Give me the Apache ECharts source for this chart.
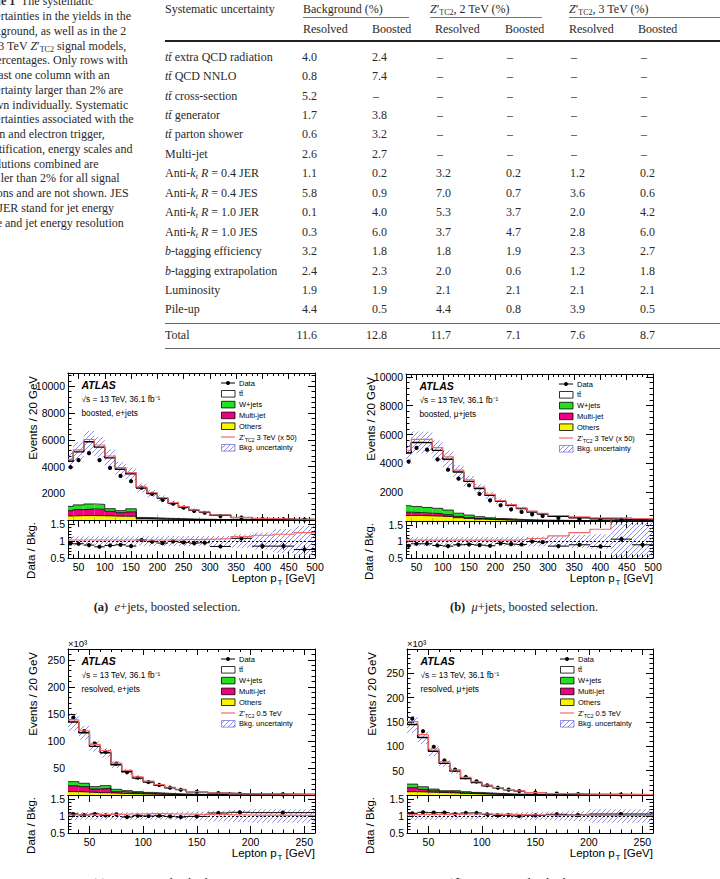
<!DOCTYPE html>
<html>
<head>
<meta charset="utf-8">
<script src="https://cdn.jsdelivr.net/npm/echarts@6/dist/echarts.min.js"></script>
<style>
  html, body { margin: 0; padding: 0; background: #fff; }
  body { width: 720px; height: 879px; overflow: hidden; position: relative;
         font-family: "Liberation Serif", "Times New Roman", serif; color: #2a2a2a; }
  #caption { position: absolute; left: -22px; top: -5.6px; font-size: 12px; line-height: 14.75px; white-space: nowrap; }
  #caption sub, .cell sub { font-size: 8px; vertical-align: -2px; line-height: 0; }
  .cell { position: absolute; font-size: 12px; line-height: 14px; white-space: nowrap; transform: translateY(-50%); }
  .num { text-align: right; }
  .rule { position: absolute; background: #333; }
  .fig { position: absolute; z-index: 5; font-size: 12.5px; white-space: nowrap; transform: translate(-50%, -50%); color: #222; }
  #plots { position: absolute; z-index: 1; left: 0; top: 360px; width: 720px; height: 519px; }
</style>
</head>
<body>
<div id="caption">
  <b>Table 1</b>&nbsp; The systematic<br>
  uncertainties in the yields in the<br>
  background, as well as in the 2<br>
  and 3 TeV <i>Z</i>′<sub>TC2</sub> signal models,<br>
  in percentages. Only rows with<br>
  at least one column with an<br>
  uncertainty larger than 2% are<br>
  shown individually. Systematic<br>
  uncertainties associated with the<br>
  muon and electron trigger,<br>
  identification, energy scales and<br>
  resolutions combined are<br>
  smaller than 2% for all signal<br>
  regions and are not shown. JES<br>
  and JER stand for jet energy<br>
  scale and jet energy resolution
</div>
<div id="table"></div>
<div id="plots"></div>
<div class="fig" style="left:167px; top:607px;"><b>(a)</b>&nbsp;&nbsp;<i>e</i>+jets, boosted selection.</div>
<div class="fig" style="left:524px; top:607px;"><b>(b)</b>&nbsp;&nbsp;<i>μ</i>+jets, boosted selection.</div>
<div class="fig" style="left:167px; top:883px;"><b>(c)</b>&nbsp;&nbsp;<i>e</i>+jets, resolved selection.</div>
<div class="fig" style="left:524px; top:883px;"><b>(d)</b>&nbsp;&nbsp;<i>μ</i>+jets, resolved selection.</div>

<script>
// ---- table data ----
const rowNames = [
  "<i>tt̄</i> extra QCD radiation", "<i>tt̄</i> QCD NNLO", "<i>tt̄</i> cross-section",
  "<i>tt̄</i> generator", "<i>tt̄</i> parton shower", "Multi-jet",
  "Anti-<i>k<sub>t</sub> R</i> = 0.4 JER", "Anti-<i>k<sub>t</sub> R</i> = 0.4 JES",
  "Anti-<i>k<sub>t</sub> R</i> = 1.0 JER", "Anti-<i>k<sub>t</sub> R</i> = 1.0 JES",
  "<i>b</i>-tagging efficiency", "<i>b</i>-tagging extrapolation", "Luminosity", "Pile-up"
];
const bkgResolved = [4.0, 0.8, 5.2, 1.7, 0.6, 2.6, 1.1, 5.8, 0.1, 0.3, 3.2, 2.4, 1.9, 4.4];
const bkgBoosted  = [2.4, 7.4, null, 3.8, 3.2, 2.7, 0.2, 0.9, 4.0, 6.0, 1.8, 2.3, 1.9, 0.5];
const z2Resolved  = [null, null, null, null, null, null, 3.2, 7.0, 5.3, 3.7, 1.8, 2.0, 2.1, 4.4];
const z2Boosted   = [null, null, null, null, null, null, 0.2, 0.7, 3.7, 4.7, 1.9, 0.6, 2.1, 0.8];
const z3Resolved  = [null, null, null, null, null, null, 1.2, 3.6, 2.0, 2.8, 2.3, 1.2, 2.1, 3.9];
const z3Boosted   = [null, null, null, null, null, null, 0.2, 0.6, 4.2, 6.0, 2.7, 1.8, 2.1, 0.5];
const totals      = [11.6, 12.8, 11.7, 7.1, 7.6, 8.7];

// ---- histogram data ----
const edgesBoosted  = [30, 40, 60, 80, 100, 120, 140, 160, 180, 200, 220, 240, 260, 280, 300, 340, 380, 420, 460, 500];
const edgesResolved = [30, 40, 50, 60, 70, 80, 90, 100, 110, 120, 130, 140, 160, 180, 200, 260];

// (a) boosted e+jets, events / 20 GeV
const bkgA      = [4400, 5100, 5850, 5450, 4650, 3800, 3450, 2400, 1980, 1620, 1270, 970, 730, 580, 350, 180, 100, 62, 40];
const dataA     = [3950, 4480, 5000, 4480, 3900, 3300, 2900, 2420, 1950, 1500, 1220, 930, 680, 540, 290, 190, 85, 52, 30];
const othersA   = [300, 330, 330, 320, 300, 280, 280, 90, 80, 60, 50, 40, 30, 25, 15, 10, 6, 4, 3];
const multijetA = [400, 450, 500, 480, 350, 270, 330, 20, 15, 10, 8, 6, 5, 4, 3, 2, 1, 1, 1];
const wjetsA    = [320, 350, 370, 370, 200, 150, 230, 80, 70, 60, 50, 40, 30, 25, 18, 10, 7, 5, 3];
const uncA      = [0.14, 0.14, 0.14, 0.14, 0.14, 0.14, 0.14, 0.14, 0.14, 0.14, 0.15, 0.15, 0.15, 0.15, 0.15, 0.2, 0.25, 0.35, 0.45];
const ratioA    = [0.93, 0.92, 0.88, 0.83, 0.87, 0.89, 0.85, 1.03, 0.98, 0.94, 0.99, 0.96, 0.94, 0.95, 0.84, 1.08, 0.85, 0.85, 0.75];
const ratioErrA = [0.015, 0.015, 0.015, 0.015, 0.015, 0.02, 0.02, 0.02, 0.025, 0.025, 0.03, 0.035, 0.035, 0.04, 0.045, 0.07, 0.08, 0.1, 0.12];
const sigRatioA = [1.03, 1.03, 1.03, 1.03, 1.03, 1.03, 1.03, 1.03, 1.03, 1.03, 1.03, 1.04, 1.04, 1.05, 1.07, 1.13, 1.17, 1.2, 1.25];

// (b) boosted mu+jets
const bkgB      = [4720, 5450, 5440, 4900, 4280, 3400, 2750, 2245, 1780, 1365, 1090, 860, 625, 490, 325, 230, 160, 115, 70];
const dataB     = [4120, 5070, 4950, 4280, 3560, 2940, 2480, 1875, 1435, 1090, 810, 625, 460, 350, 210, 140, 90, 80, 45];
const othersB   = [380, 380, 360, 340, 300, 230, 180, 130, 100, 80, 60, 45, 35, 28, 20, 14, 10, 7, 5];
const multijetB = [230, 200, 180, 170, 140, 90, 60, 40, 25, 15, 10, 8, 6, 5, 3, 2, 1, 1, 1];
const wjetsB    = [450, 430, 400, 370, 320, 220, 170, 130, 100, 80, 60, 45, 35, 28, 20, 14, 10, 7, 5];
const uncB      = [0.14, 0.14, 0.14, 0.14, 0.14, 0.14, 0.14, 0.14, 0.14, 0.14, 0.15, 0.15, 0.15, 0.15, 0.16, 0.2, 0.22, 0.6, 0.6];
const ratioB    = [0.87, 0.93, 0.93, 0.88, 0.86, 0.9, 0.91, 0.89, 0.87, 0.94, 0.92, 0.91, 1.0, 0.98, 0.86, 0.9, 0.85, 1.07, 0.9];
const ratioErrB = [0.015, 0.015, 0.015, 0.015, 0.015, 0.02, 0.02, 0.02, 0.025, 0.025, 0.03, 0.035, 0.035, 0.04, 0.045, 0.05, 0.06, 0.08, 0.1];
const sigRatioB = [1.04, 1.04, 1.04, 1.04, 1.04, 1.04, 1.04, 1.04, 1.04, 1.04, 1.04, 1.06, 1.09, 1.1, 1.17, 1.27, 1.37, 1.9, 2.4];

// (c) resolved e+jets, x10^3 events / 20 GeV
const bkgC      = [135, 115, 90, 78, 56, 43, 31.5, 24, 18, 13.5, 10, 6, 3.2, 1.9, 1.1];
const dataC     = [143, 118, 95, 80, 58, 42, 32, 24, 18.5, 13.5, 9.7, 6, 3.5, 2.1, 1.2];
const othersC   = [6.2, 5.5, 4.5, 4.2, 3.2, 2.6, 2.1, 1.6, 1.2, 0.9, 0.7, 0.45, 0.25, 0.15, 0.08];
const multijetC = [11, 10, 6.6, 8.2, 3.0, 2.4, 1.6, 1.2, 0.8, 0.6, 0.4, 0.25, 0.12, 0.08, 0.04];
const wjetsC    = [7.5, 6.2, 4.4, 4.9, 4.3, 3.0, 2.5, 2.0, 1.5, 1.1, 0.8, 0.5, 0.3, 0.2, 0.1];
const uncC      = [0.12, 0.11, 0.11, 0.11, 0.11, 0.11, 0.11, 0.11, 0.11, 0.11, 0.12, 0.13, 0.16, 0.18, 0.2];
const ratioC    = [1.06, 1.03, 1.06, 1.02, 1.05, 0.97, 1.01, 1.0, 1.01, 0.99, 0.97, 0.99, 1.09, 1.11, 1.1];
const ratioErrC = [0.005, 0.005, 0.005, 0.005, 0.006, 0.007, 0.008, 0.009, 0.01, 0.012, 0.014, 0.014, 0.02, 0.025, 0.03];
const sigRatioC = [1.03, 1.03, 1.04, 1.05, 1.05, 1.06, 1.06, 1.07, 1.07, 1.06, 1.06, 1.05, 1.04, 1.03, 1.02];

// (d) resolved mu+jets
const bkgD      = [145, 118, 90, 65, 49, 34, 25.7, 19, 14.7, 10.7, 8, 4.9, 2.85, 1.75, 0.85];
const dataD     = [157, 131, 99, 71, 52, 37, 28, 20, 15, 11, 8, 5, 3, 1.8, 0.9];
const othersD   = [6.8, 6.1, 5.4, 4.8, 4.0, 3.0, 2.3, 1.8, 1.3, 1.0, 0.7, 0.45, 0.25, 0.15, 0.08];
const multijetD = [8.2, 5.5, 3.4, 2.0, 1.8, 1.2, 0.9, 0.6, 0.4, 0.3, 0.2, 0.12, 0.06, 0.04, 0.02];
const wjetsD    = [7.4, 5.4, 3.4, 2.0, 3.0, 2.6, 2.1, 1.6, 1.2, 0.9, 0.6, 0.4, 0.25, 0.15, 0.08];
const uncD      = [0.12, 0.11, 0.11, 0.11, 0.11, 0.1, 0.1, 0.1, 0.1, 0.1, 0.11, 0.12, 0.13, 0.15, 0.2];
const ratioD    = [1.08, 1.11, 1.1, 1.1, 1.06, 1.09, 1.09, 1.05, 1.02, 1.03, 1.0, 1.02, 1.05, 1.03, 1.06];
const ratioErrD = [0.005, 0.005, 0.005, 0.005, 0.006, 0.007, 0.008, 0.009, 0.01, 0.012, 0.014, 0.014, 0.02, 0.025, 0.03];
const sigRatioD = [1.04, 1.05, 1.05, 1.05, 1.05, 1.06, 1.06, 1.06, 1.05, 1.05, 1.04, 1.03, 1.02, 1.02, 1.01];

// ---- table ----
(function buildTable() {
  const t = document.getElementById("table");
  let html = "";
  const cell = (x, y, s, cls) => `<div class="cell ${cls || ""}" style="left:${x}px;top:${y}px;">${s}</div>`;
  const num = (x, y, v) => v === null
    ? cell(x + 1, y, "–", "")
    : `<div class="cell num" style="left:${x - 40}px;width:55px;top:${y}px;">${v.toFixed(1)}</div>`;
  const cols = [302, 372, 436, 506, 570, 640];
  html += cell(165, 8.5, "Systematic uncertainty");
  html += cell(303, 8.5, "Background (%)");
  html += cell(430, 8.5, "<i>Z</i>′<sub>TC2</sub>, 2 TeV (%)");
  html += cell(569, 8.5, "<i>Z</i>′<sub>TC2</sub>, 3 TeV (%)");
  html += `<div class="rule" style="left:303px;top:17px;width:106px;height:1px;background:#777"></div>`;
  html += `<div class="rule" style="left:430px;top:17px;width:112px;height:1px;background:#777"></div>`;
  html += `<div class="rule" style="left:569px;top:17px;width:151px;height:1px;background:#777"></div>`;
  ["Resolved", "Boosted", "Resolved", "Boosted", "Resolved", "Boosted"].forEach((s, i) => {
    html += cell([303, 372, 435, 505, 569, 638][i], 28.5, s);
  });
  html += `<div class="rule" style="left:165px;top:40px;width:555px;height:1.5px;background:#222"></div>`;
  const columns = [bkgResolved, bkgBoosted, z2Resolved, z2Boosted, z3Resolved, z3Boosted];
  rowNames.forEach((name, r) => {
    const y = 56.7 + r * 19.44;
    html += cell(165, y, name);
    columns.forEach((col, c) => { html += num(cols[c], y, col[r]); });
  });
  html += `<div class="rule" style="left:165px;top:323px;width:555px;height:1px;background:#666"></div>`;
  html += cell(165, 334.7, "Total");
  totals.forEach((v, c) => { html += num(cols[c], 334.7, v); });
  html += `<div class="rule" style="left:165px;top:348px;width:555px;height:1px;background:#666"></div>`;
  t.innerHTML = html;
})();

// ---- plots ----
function makeHatch() {
  const c = document.createElement("canvas");
  c.width = 5; c.height = 5;
  const g = c.getContext("2d");
  g.strokeStyle = "rgba(85,85,225,0.75)";
  g.lineWidth = 0.9;
  g.beginPath();
  g.moveTo(0, 5); g.lineTo(5, 0);
  g.moveTo(-1, 1); g.lineTo(1, -1);
  g.moveTo(4, 6); g.lineTo(6, 4);
  g.stroke();
  return c;
}
const hatch = { image: makeHatch(), repeat: "repeat" };

const SANS = "'Liberation Sans', Arial, sans-serif";
const YELLOW = "#f5f500", PINK = "#ee0080", GREEN = "#22e022", RED = "#f06868";

const panels = [
  { edges: edgesBoosted, bkg: bkgA, data: dataA, others: othersA, multijet: multijetA, wjets: wjetsA,
    unc: uncA, ratio: ratioA, ratioErr: ratioErrA, sigRatio: sigRatioA,
    left: 68, top: 13, width: 247, mainH: 147, ratioH: 38, xMax: 500, yMax: 11000, yInt: 2000,
    channel: "boosted, e+jets", sig: " 3 TeV (x 50)", thousands: false },
  { edges: edgesBoosted, bkg: bkgB, data: dataB, others: othersB, multijet: multijetB, wjets: wjetsB,
    unc: uncB, ratio: ratioB, ratioErr: ratioErrB, sigRatio: sigRatioB,
    left: 406, top: 14, width: 247, mainH: 147, ratioH: 37, xMax: 500, yMax: 10200, yInt: 2000,
    channel: "boosted, μ+jets", sig: " 3 TeV (x 50)", thousands: false },
  { edges: edgesResolved, bkg: bkgC, data: dataC, others: othersC, multijet: multijetC, wjets: wjetsC,
    unc: uncC, ratio: ratioC, ratioErr: ratioErrC, sigRatio: sigRatioC,
    left: 68, top: 289, width: 247, mainH: 146, ratioH: 38, xMax: 260, yMax: 270, yInt: 50,
    channel: "resolved, e+jets", sig: " 0.5 TeV", thousands: true },
  { edges: edgesResolved, bkg: bkgD, data: dataD, others: othersD, multijet: multijetD, wjets: wjetsD,
    unc: uncD, ratio: ratioD, ratioErr: ratioErrD, sigRatio: sigRatioD,
    left: 407, top: 289, width: 246, mainH: 146, ratioH: 38, xMax: 260, yMax: 300, yInt: 50,
    channel: "resolved, μ+jets", sig: " 0.5 TeV", thousands: true }
];

function renderBin(fill, stroke) {
  return function (params, api) {
    const a = api.coord([api.value(0), api.value(3)]);
    const b = api.coord([api.value(1), api.value(2)]);
    const cs = params.coordSys;
    const shape = echarts.graphic.clipRectByRect(
      { x: a[0], y: a[1], width: b[0] - a[0], height: b[1] - a[1] },
      { x: cs.x, y: cs.y, width: cs.width, height: cs.height });
    if (!shape) return null;
    return { type: "rect", shape: shape, style: { fill: fill, stroke: stroke || null, lineWidth: 0 } };
  };
}

function renderPoint(params, api) {
  const x = api.value(0), y = api.value(1), err = api.value(2), x0 = api.value(3), x1 = api.value(4);
  const c = api.coord([x, y]);
  const kids = [];
  const st = { stroke: "#000", lineWidth: 1 };
  if (x1 > x0) {
    const l = api.coord([x0, y]), r = api.coord([x1, y]);
    kids.push({ type: "line", shape: { x1: l[0], y1: l[1], x2: r[0], y2: r[1] }, style: st });
  }
  if (err > 0) {
    const lo = api.coord([x, y - err]), hi = api.coord([x, y + err]);
    kids.push({ type: "line", shape: { x1: lo[0], y1: lo[1], x2: hi[0], y2: hi[1] }, style: st });
  }
  kids.push({ type: "circle", shape: { cx: c[0], cy: c[1], r: 2.1 }, style: { fill: "#000" } });
  return { type: "group", children: kids };
}

const stepData = (edges, vals) => edges.map((e, i) => [e, vals[Math.min(i, vals.length - 1)]]);

const grids = [], xAxes = [], yAxes = [], series = [], elements = [];

function axisBase(gi, pos, labelShow, tickLen) {
  return {
    type: "value", gridIndex: gi, position: pos,
    axisLine: { show: true, onZero: false, lineStyle: { color: "#000", width: 1 } },
    axisTick: { show: true, inside: true, length: tickLen, lineStyle: { color: "#000", width: 1 } },
    minorTick: { show: true, splitNumber: 5, length: tickLen / 2, lineStyle: { color: "#000", width: 1 } },
    splitLine: { show: false },
    axisLabel: { show: labelShow, color: "#000", fontFamily: SANS, fontSize: 10.5, margin: 3 }
  };
}

panels.forEach((p, pi) => {
  const gm = 2 * pi, gr = 2 * pi + 1;
  grids.push({ left: p.left, top: p.top, width: p.width, height: p.mainH, outerBoundsMode: "none" });
  grids.push({ left: p.left, top: p.top + p.mainH, width: p.width, height: p.ratioH, outerBoundsMode: "none" });

  [gm, gr].forEach((gi) => {
    const isRatio = gi === gr;
    const xFmt = (v) => (v >= 50 && v % 50 === 0 ? String(v) : "");
    const xb = axisBase(gi, "bottom", isRatio, isRatio ? 7 : 6);
    const xt = axisBase(gi, "top", false, isRatio ? 7 : 6);
    [xb, xt].forEach((ax) => {
      Object.assign(ax, { min: 30, max: p.xMax, splitNumber: p.xMax > 300 ? 9 : 5 });
      ax.axisLabel.formatter = xFmt;
      ax.axisLabel.showMinLabel = false;
    });
    xAxes.push(xb, xt);

    const yl = axisBase(gi, "left", true, 7);
    const yr = axisBase(gi, "right", false, 7);
    [yl, yr].forEach((ax) => {
      if (isRatio) {
        Object.assign(ax, { min: 0.5, max: 1.62, interval: 0.5 });
        ax.axisLabel.formatter = (v) => ([0.5, 1, 1.5].indexOf(v) >= 0 ? String(v) : "");
      } else {
        Object.assign(ax, { min: 0, max: p.yMax, interval: p.yInt });
        ax.axisLabel.formatter = (v) => (v > 0 && v < p.yMax && v % p.yInt === 0 ? String(v) : "");
      }
    });
    yAxes.push(yl, yr);
  });

  const mx = 2 * gm, rx = 2 * gr;
  const bins = p.bkg.map((_, i) => [p.edges[i], p.edges[i + 1]]);
  const c1 = p.others.slice();
  const c2 = c1.map((v, i) => v + p.multijet[i]);
  const c3 = c2.map((v, i) => v + p.wjets[i]);
  const binSeries = (name, lo, hi, fill, stroke, xi) => ({
    type: "custom", name: name, xAxisIndex: xi, yAxisIndex: xi, silent: true,
    renderItem: renderBin(fill, stroke),
    encode: { x: [0, 1], y: [2, 3] },
    data: bins.map((b, i) => [b[0], b[1], lo[i], hi[i]])
  });
  const zeros = p.bkg.map(() => 0);

  // stacked backgrounds
  series.push(binSeries("Others", zeros, c1, YELLOW, null, mx));
  series.push(binSeries("Multi-jet", c1, c2, PINK, null, mx));
  series.push(binSeries("W+jets", c2, c3, GREEN, null, mx));
  series.push(binSeries("tt̄", c3, p.bkg, "#ffffff", null, mx));
  // background uncertainty band
  series.push(binSeries("Bkg. uncertainty",
    p.bkg.map((v, i) => v * (1 - p.unc[i])), p.bkg.map((v, i) => v * (1 + p.unc[i])), hatch, null, mx));
  // outlines
  [[c1, 0.8], [c2, 0.8], [c3, 0.8], [p.bkg, 1.4]].forEach(([vals, w]) => {
    series.push({ type: "line", step: "end", xAxisIndex: mx, yAxisIndex: mx, symbol: "none", silent: true,
      data: stepData(p.edges, vals), lineStyle: { color: "#000", width: w } });
  });
  // signal
  series.push({ type: "line", name: "Z'TC2", step: "end", xAxisIndex: mx, yAxisIndex: mx, symbol: "none", silent: true,
    data: stepData(p.edges, p.bkg.map((v, i) => v * p.sigRatio[i])), lineStyle: { color: RED, width: 1.2 } });
  // data
  series.push({ type: "custom", name: "Data", xAxisIndex: mx, yAxisIndex: mx, silent: true,
    renderItem: renderPoint, encode: { x: 0, y: 1 },
    data: p.data.map((v, i) => [(bins[i][0] + bins[i][1]) / 2, v, 0, 0, 0]) });

  // ratio panel
  series.push(binSeries("Bkg. uncertainty ratio",
    p.unc.map((u) => 1 - u), p.unc.map((u) => 1 + u), hatch, null, rx));
  series.push({ type: "line", step: "end", xAxisIndex: rx, yAxisIndex: rx, symbol: "none", silent: true,
    data: stepData(p.edges, p.sigRatio), lineStyle: { color: RED, width: 1.2 },
    markLine: { silent: true, symbol: "none", label: { show: false },
      lineStyle: { color: "#000", type: [2, 2], width: 1 }, data: [{ yAxis: 1 }] } });
  series.push({ type: "custom", name: "Data/Bkg", xAxisIndex: rx, yAxisIndex: rx, silent: true,
    renderItem: renderPoint, encode: { x: 0, y: 1 },
    data: p.ratio.map((v, i) => [(bins[i][0] + bins[i][1]) / 2, v, p.ratioErr[i], bins[i][0], bins[i][1]]) });

  // ---- annotations ----
  const L = p.left, T = p.top, R = p.left + p.width, RB = p.top + p.mainH + p.ratioH;
  const txt = (x, y, text, extra) => ({ type: "text", x: x, y: y, silent: true,
    style: Object.assign({ text: text, fill: "#000", fontFamily: SANS, fontSize: 8, align: "left", verticalAlign: "middle" }, extra || {}) });

  elements.push(txt(L + 13.5, T + 12, "ATLAS", { fontSize: 10.5, fontWeight: "bold", fontStyle: "italic" }));
  elements.push(txt(L + 13.5, T + 26, "√s = 13 TeV, 36.1 fb⁻¹", { fontSize: 8.3 }));
  elements.push(txt(L + 13.5, T + 40, p.channel, { fontSize: 8.3 }));
  if (p.thousands) elements.push(txt(L, T - 6, "×10³", { fontSize: 9.5 }));

  elements.push(txt(L - 35, T + 3, "Events / 20 GeV", { fontSize: 11.5, align: "right" }));
  elements[elements.length - 1].rotation = Math.PI / 2;
  elements.push(txt(L - 37, T + p.mainH + 2, "Data / Bkg.", { fontSize: 11.5, align: "right" }));
  elements[elements.length - 1].rotation = Math.PI / 2;
  elements.push(txt(R, RB + 20, "Lepton p{sub|T} [GeV]", { fontSize: 11.5, align: "right", lineHeight: 13,
    rich: { sub: { fontSize: 8, fontFamily: SANS, lineHeight: 8, padding: [9, 0, 0, 1] } } }));

  // legend
  const mxL = L + 153, tx = L + 171;
  const row = (k) => T + 10 + k * 10.8;
  elements.push({ type: "line", silent: true, shape: { x1: mxL, y1: row(0), x2: mxL + 14, y2: row(0) }, style: { stroke: "#000", lineWidth: 1 } });
  elements.push({ type: "circle", silent: true, shape: { cx: mxL + 7, cy: row(0), r: 2 }, style: { fill: "#000" } });
  elements.push(txt(tx, row(0), "Data", { fontSize: 7.5 }));
  [["tt̄", "#ffffff"], ["W+jets", GREEN], ["Multi-jet", PINK], ["Others", YELLOW]].forEach(([name, col], k) => {
    elements.push({ type: "rect", silent: true, shape: { x: mxL + 0.5, y: row(k + 1) - 3.3, width: 13.5, height: 6.6 },
      style: { fill: col, stroke: "#000", lineWidth: 0.8 } });
    elements.push(txt(tx, row(k + 1), name, { fontSize: 7.5 }));
  });
  elements.push({ type: "line", silent: true, shape: { x1: mxL, y1: row(5), x2: mxL + 14, y2: row(5) }, style: { stroke: RED, lineWidth: 1.2 } });
  elements.push(txt(tx, row(5), "Z'{sub|TC2}" + p.sig, { fontSize: 7.5, lineHeight: 9,
    rich: { sub: { fontSize: 5, fontFamily: SANS, lineHeight: 5, padding: [6, 0, 0, 0] } } }));
  elements.push({ type: "rect", silent: true, shape: { x: mxL + 0.5, y: row(6) - 3.3, width: 13.5, height: 6.6 },
    style: { fill: hatch, stroke: "rgba(85,85,225,0.8)", lineWidth: 0.8 } });
  elements.push(txt(tx, row(6), "Bkg. uncertainty", { fontSize: 7.5 }));
});

const chart = echarts.init(document.getElementById("plots"), null, { renderer: "svg" });
chart.setOption({
  animation: false,
  backgroundColor: "transparent",
  grid: grids,
  xAxis: xAxes,
  yAxis: yAxes,
  series: series,
  graphic: { elements: elements }
});
</script>
</body>
</html>
